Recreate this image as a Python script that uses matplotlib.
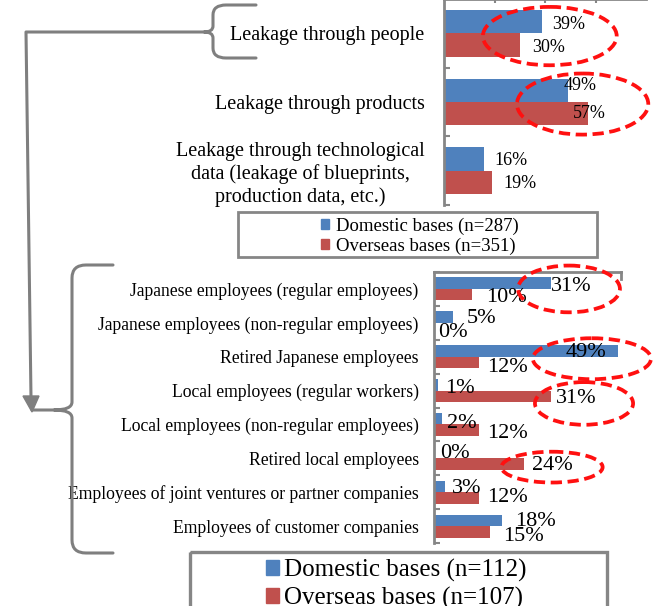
import matplotlib
matplotlib.use("Agg")
import matplotlib.pyplot as plt
from matplotlib.patches import Ellipse, Patch, Rectangle, Polygon
from matplotlib.path import Path
from matplotlib.patches import PathPatch

plt.rcParams['font.family'] = 'serif'
plt.rcParams['font.serif'] = ['Liberation Serif', 'DejaVu Serif']

# channels of technology leakage
channels = ['Leakage through people',
            'Leakage through products',
            'Leakage through technological\ndata (leakage of blueprints,\nproduction data, etc.)']
channel_domestic = [39, 49, 16]
channel_overseas = [30, 57, 19]
channel_series = ['Domestic bases (n=287)', 'Overseas bases (n=351)']

# people through whom it leaked
people = ['Japanese employees (regular employees)',
          'Japanese employees (non-regular employees)',
          'Retired Japanese employees',
          'Local employees (regular workers)',
          'Local employees (non-regular employees)',
          'Retired local employees',
          'Employees of joint ventures or partner companies',
          'Employees of customer companies']
people_domestic = [31, 5, 49, 1, 2, 0, 3, 18]
people_overseas = [10, 0, 12, 31, 12, 24, 12, 15]
people_series = ['Domestic bases (n=112)', 'Overseas bases (n=107)']

BLUE = '#4F81BD'
RED = '#C0504D'
GRAY = '#868686'
LINE = '#7F7F7F'
W, H = 666, 606

# value label nudges in pixels (dx, dy down)
top_dom_off = [(10, 3), (-4, -5), (10, 2)]
top_ovs_off = [(12, 2), (-15, 0), (11, 1)]
bot_dom_off = [(0, 3), (14, 1), (-53, 2), (7, 4), (5, 5), (6, 1), (7, 2), (13, 1)]
bot_ovs_off = [(15, 3), (4, 4), (8, 5), (5, 2), (8, 3), (8, 1), (8, 0), (13, 5)]

# dashed highlight rings: (category, x centre %, width %, height in categories)
top_rings = [(0.04, 41.9, 53, 0.85), (1.03, 54.9, 52, 0.89)]
bot_rings = [(0.0, 35.9, 27.1, 1.38), (2.06, 42.0, 31.4, 1.21),
             (3.38, 39.9, 26.1, 1.26), (5.26, 31.4, 26.9, 0.91)]


def frac(x0, y0, x1, y1):
    return [x0 / W, 1 - y1 / H, (x1 - x0) / W, (y1 - y0) / H]


def bar_panel(ax, labels, dom, ovs, dom_off, ovs_off, fs_cat, fs_val, pad, rings):
    n = len(labels)
    ys = list(range(n))
    h = 0.34
    ax.barh([y - h / 2 for y in ys], dom, height=h, color=BLUE, zorder=2)
    ax.barh([y + h / 2 for y in ys], ovs, height=h, color=RED, zorder=2)
    ax.set_ylim(n - 0.5, -0.5)
    ax.set_yticks(ys)
    ax.set_yticklabels(labels, fontsize=fs_cat)
    for t in ax.get_yticklabels():
        t.set_multialignment('center')
    ax.set_yticks([y - 0.5 for y in range(n + 1)], minor=True)
    ax.tick_params(axis='y', which='major', length=0, pad=pad)
    ax.tick_params(axis='y', which='minor', direction='in', length=4, width=1.5, color=GRAY)
    ax.spines['left'].set_color(GRAY)
    ax.spines['left'].set_linewidth(2)
    ax.spines['right'].set_visible(False)
    ax.spines['bottom'].set_visible(False)
    ax.set_xticks([])
    for i in range(n):
        ax.annotate(f'{dom[i]}%', (dom[i], i - h / 2), xytext=(dom_off[i][0], -dom_off[i][1]),
                    textcoords='offset pixels', ha='left', va='center', fontsize=fs_val, zorder=4)
        ax.annotate(f'{ovs[i]}%', (ovs[i], i + h / 2), xytext=(ovs_off[i][0], -ovs_off[i][1]),
                    textcoords='offset pixels', ha='left', va='center', fontsize=fs_val, zorder=4)
    for cy, cx, ew, eh in rings:
        ax.add_patch(Ellipse((cx, cy), ew, eh, fill=False, edgecolor='#FF1010', lw=2.7,
                             linestyle=(0, (3.0, 1.5)), clip_on=False, zorder=5))


fig = plt.figure(figsize=(W / 100, H / 100), dpi=100)

# upper panel
ax1 = fig.add_axes(frac(444, -1, 646, 205))
ax1.set_xlim(0, 80)
bar_panel(ax1, channels, channel_domestic, channel_overseas, top_dom_off, top_ovs_off,
          14.5, 13, 14, top_rings)
ax1.spines['top'].set_color(GRAY)
ax1.spines['top'].set_linewidth(2)
ax1.xaxis.tick_top()
ax1.set_xticks([20, 40, 60])
ax1.set_xticklabels([])
ax1.tick_params(axis='x', direction='in', length=3, width=1.5, color=GRAY)

# lower panel
ax2 = fig.add_axes(frac(434, 272, 621, 543))
ax2.set_xlim(0, (621 - 434) / 3.76)
bar_panel(ax2, people, people_domestic, people_overseas, bot_dom_off, bot_ovs_off,
          12.7, 16, 11, bot_rings)
ax2.spines['top'].set_color(GRAY)
ax2.spines['top'].set_linewidth(2)
ax2.plot([1, 1], [1, 0.975], transform=ax2.transAxes, color=GRAY, lw=2, clip_on=False)

# overlay in pixel space for braces, arrow and legend frames
deco = fig.add_axes([0, 0, 1, 1])
deco.set_xlim(0, W)
deco.set_ylim(H, 0)
deco.axis('off')

M, L, C = Path.MOVETO, Path.LINETO, Path.CURVE3
top_brace = [((256, 5), M), ((226, 5), L), ((213, 5), C), ((213, 15), C), ((213, 26), L),
             ((213, 32), C), ((204, 32), C), ((213, 32), C), ((213, 38), C), ((213, 48), L),
             ((213, 58), C), ((226, 58), C), ((256, 58), L)]
bot_brace = [((113, 265), M), ((86, 265), L), ((72, 265), C), ((72, 278), C), ((72, 402), L),
             ((72, 410), C), ((54, 410), C), ((72, 410), C), ((72, 418), C), ((72, 540), L),
             ((72, 553), C), ((86, 553), C), ((113, 553), L)]
connector = [((204, 32), M), ((26, 32), L), ((31, 398), L), ((32, 410), M), ((56, 410), L)]
for spec in (top_brace, bot_brace, connector):
    verts = [v for v, _ in spec]
    codes = [c for _, c in spec]
    deco.add_patch(PathPatch(Path(verts, codes), fill=False, edgecolor=LINE, lw=2.2,
                             capstyle='round', joinstyle='round'))
deco.add_patch(Polygon([(23, 396), (39, 396), (32, 412)], closed=True, color=LINE))

# legend frames
deco.add_patch(Rectangle((238, 212), 359, 45, fill=False, edgecolor=GRAY, lw=2))
deco.add_patch(Rectangle((190, 552), 417, 70, fill=False, edgecolor=GRAY, lw=2.4, clip_on=False))

h1 = [Patch(color=BLUE, label=channel_series[0]), Patch(color=RED, label=channel_series[1])]
fig.legend(handles=h1, loc='center', bbox_to_anchor=(420 / W, 1 - 236 / H), frameon=False,
           fontsize=13.5, handlelength=0.45, handleheight=0.45, handletextpad=0.37,
           labelspacing=0.16, borderpad=0)
h2 = [Patch(color=BLUE, label=people_series[0]), Patch(color=RED, label=people_series[1])]
fig.legend(handles=h2, loc='center', bbox_to_anchor=(396 / W, 1 - 584 / H), frameon=False,
           fontsize=18, handlelength=0.52, handleheight=0.52, handletextpad=0.2,
           labelspacing=0.2, borderpad=0)

fig.savefig('out.png', dpi=100)
